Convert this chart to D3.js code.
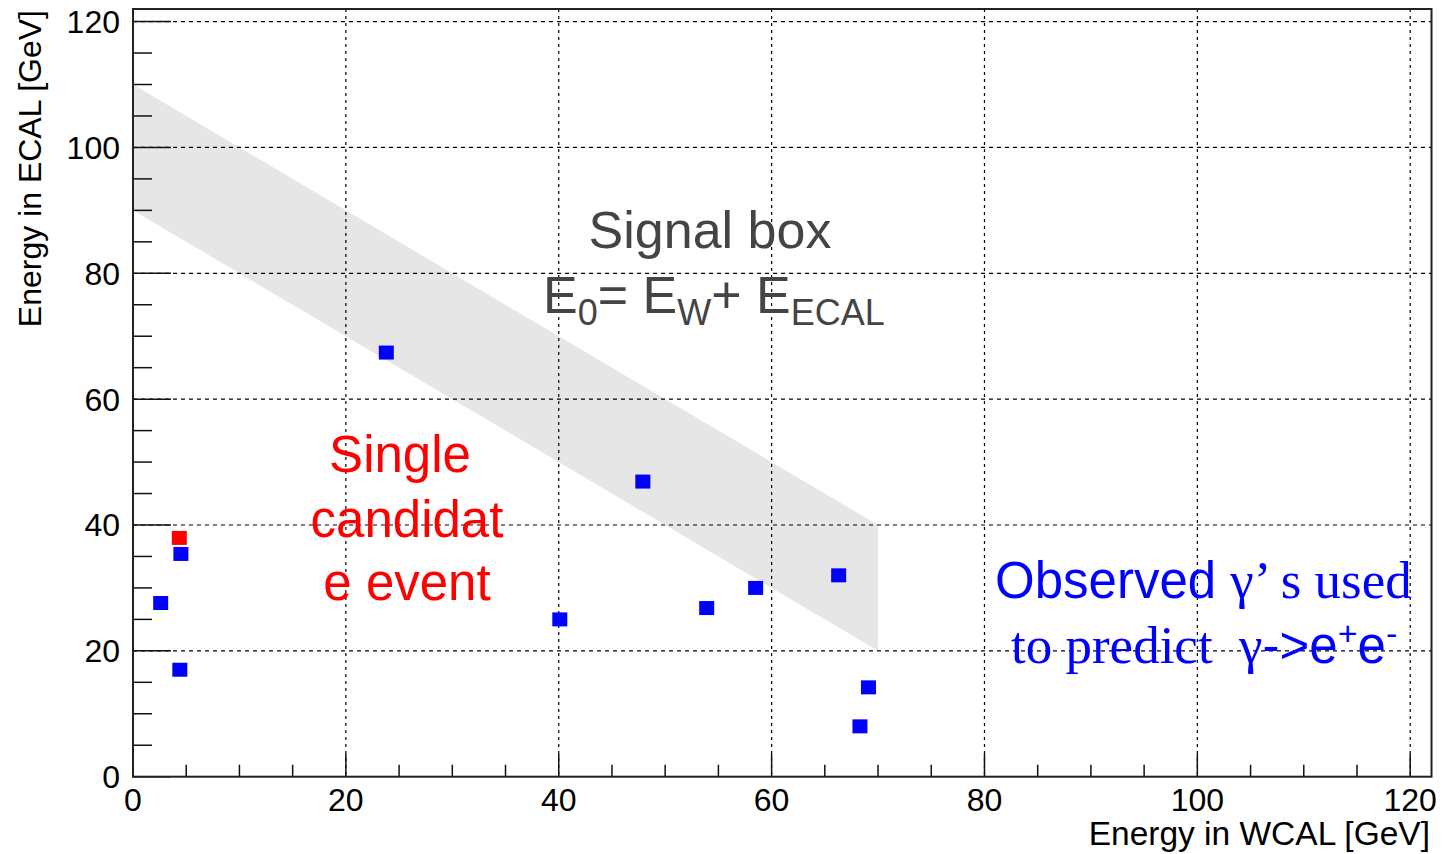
<!DOCTYPE html>
<html>
<head>
<meta charset="utf-8">
<script src="https://cdn.jsdelivr.net/npm/d3@7"></script>
<style>
  body { margin: 0; background: #fff; }
  svg { display: block; }
  text { font-family: "Liberation Sans", Arial, Helvetica, sans-serif; }
</style>
</head>
<body>
<svg id="chart" width="1443" height="854"></svg>
<script>
// observed events (energy in WCAL, energy in ECAL) [GeV]
var obsX = [23.8, 47.9, 40.1, 53.9, 58.5, 66.3, 69.1, 68.3, 2.6, 4.5, 4.4];
var obsY = [67.4, 46.9, 25.0, 26.8, 30.0, 32.0, 14.2, 8.0, 27.6, 35.4, 17.0];
// the single candidate event
var candX = [4.35];
var candY = [37.95];
// signal box corners
var boxX = [0, 70, 70, 0];
var boxY = [110, 40, 20, 90];
// axis ticks
var majorTicks = [0, 20, 40, 60, 80, 100, 120];
var minorTicks = d3.range(0, 121, 5);

var svg = d3.select("#chart");
var plotLeft = 133, plotRight = 1431.5, plotTop = 9, plotBottom = 776.7;

var x = d3.scaleLinear().domain([0, 122]).range([plotLeft, plotRight]);
var y = d3.scaleLinear().domain([0, 122]).range([plotBottom, plotTop]);

// signal box
svg.append("path")
  .attr("d", d3.line().x(function(d){ return x(d[0]); }).y(function(d){ return y(d[1]); })
    (boxX.map(function(v, i){ return [v, boxY[i]]; })) + "Z")
  .attr("fill", "#e6e6e6");

// grid
var grid = svg.append("g").attr("stroke", "#000").attr("stroke-width", 1.2);
grid.selectAll("line.gx").data(majorTicks.slice(1)).enter().append("line")
  .attr("x1", function(d){ return x(d); }).attr("x2", function(d){ return x(d); })
  .attr("y1", plotTop).attr("y2", plotBottom)
  .attr("stroke-dasharray", "3,4");
grid.selectAll("line.gy").data(majorTicks.slice(1)).enter().append("line")
  .attr("y1", function(d){ return y(d); }).attr("y2", function(d){ return y(d); })
  .attr("x1", plotLeft).attr("x2", plotRight)
  .attr("stroke-dasharray", "4,4");

// ticks inside the frame
var ticks = svg.append("g").attr("stroke", "#111").attr("stroke-width", 1.5);
ticks.selectAll("line.tx").data(minorTicks).enter().append("line")
  .attr("x1", function(d){ return x(d); }).attr("x2", function(d){ return x(d); })
  .attr("y1", plotBottom)
  .attr("y2", function(d){ return plotBottom - (d % 20 == 0 ? 23 : 12); });
ticks.selectAll("line.ty").data(minorTicks).enter().append("line")
  .attr("y1", function(d){ return y(d); }).attr("y2", function(d){ return y(d); })
  .attr("x1", plotLeft)
  .attr("x2", function(d){ return plotLeft + (d % 20 == 0 ? 38 : 19); });

// frame
svg.append("rect")
  .attr("x", plotLeft).attr("y", plotTop)
  .attr("width", plotRight - plotLeft).attr("height", plotBottom - plotTop)
  .attr("fill", "none").attr("stroke", "#222").attr("stroke-width", 2);

// tick labels
svg.selectAll("text.xl").data(majorTicks).enter().append("text")
  .attr("x", function(d){ return x(d); }).attr("y", 811)
  .attr("text-anchor", "middle").attr("font-size", 32)
  .text(function(d){ return d; });
svg.selectAll("text.yl").data(majorTicks).enter().append("text")
  .attr("x", 120).attr("y", function(d){ return y(d) + 11.5; })
  .attr("text-anchor", "end").attr("font-size", 32)
  .text(function(d){ return d; });

// axis titles
svg.append("text")
  .attr("x", 1430).attr("y", 845)
  .attr("text-anchor", "end").attr("font-size", 33.5)
  .text("Energy in WCAL [GeV]");
svg.append("text")
  .attr("transform", "translate(41,10) rotate(-90)")
  .attr("text-anchor", "end").attr("font-size", 32)
  .text("Energy in ECAL [GeV]");

// markers
svg.selectAll("rect.obs").data(obsX).enter().append("rect")
  .attr("x", function(d){ return x(d) - 7.5; })
  .attr("y", function(d, i){ return y(obsY[i]) - 7; })
  .attr("width", 15).attr("height", 14)
  .attr("fill", "#0000ff");
svg.selectAll("rect.cand").data(candX).enter().append("rect")
  .attr("x", function(d){ return x(d) - 7.5; })
  .attr("y", function(d, i){ return y(candY[i]) - 7; })
  .attr("width", 15).attr("height", 14)
  .attr("fill", "#ff0000");

// signal box label
svg.append("text")
  .attr("x", 710).attr("y", 248)
  .attr("text-anchor", "middle").attr("font-size", 52).attr("fill", "#444")
  .text("Signal box");
var eq = svg.append("text")
  .attr("x", 543).attr("y", 313)
  .attr("font-size", 52).attr("fill", "#444");
eq.append("tspan").text("E");
eq.append("tspan").attr("font-size", 36).attr("dy", 12).text("0");
eq.append("tspan").attr("dy", -12).text("= E");
eq.append("tspan").attr("font-size", 36).attr("dy", 12).text("W");
eq.append("tspan").attr("dy", -12).text("+ E");
eq.append("tspan").attr("font-size", 36).attr("dy", 12).text("ECAL");

// candidate label
var cand = svg.append("text")
  .attr("text-anchor", "middle").attr("font-size", 51).attr("fill", "#ff0000");
cand.append("tspan").attr("x", 400).attr("y", 472).text("Single");
cand.append("tspan").attr("x", 407).attr("y", 537).text("candidat");
cand.append("tspan").attr("x", 407).attr("y", 600).text("e event");

// observed label
var obs1 = svg.append("text")
  .attr("x", 995).attr("y", 598)
  .attr("font-size", 51).attr("fill", "#0000ff");
obs1.append("tspan").text("Observed ");
obs1.append("tspan").attr("font-family", "Liberation Serif, Times New Roman, serif")
  .attr("font-size", 53).text("\u03b3\u2019 s used");
var obs2 = svg.append("text")
  .attr("x", 1011).attr("y", 663)
  .attr("font-size", 51).attr("fill", "#0000ff");
obs2.append("tspan").attr("font-family", "Liberation Serif, Times New Roman, serif")
  .attr("font-size", 53).text("to predict \u00a0\u03b3");
obs2.append("tspan").text("->e");
obs2.append("tspan").attr("font-size", 34).attr("dy", -18).text("+");
obs2.append("tspan").attr("dy", 18).text("e");
obs2.append("tspan").attr("font-size", 34).attr("dy", -18).text("-");
</script>
</body>
</html>
